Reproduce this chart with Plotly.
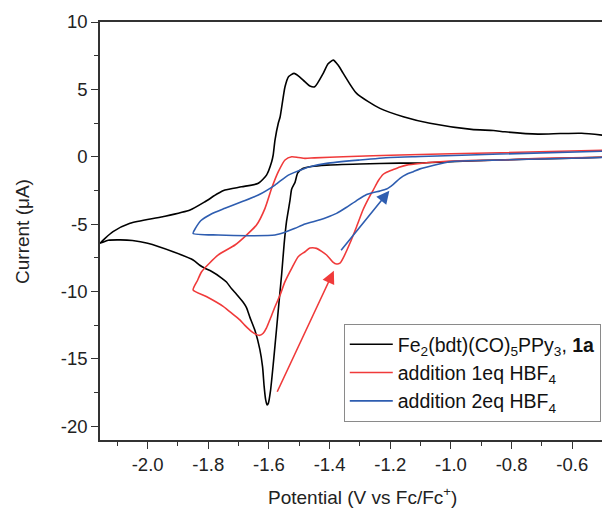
import plotly.graph_objects as go

# ---- data (potential in V vs Fc/Fc+, current in uA) ----
black_x = [-0.476, -0.60, -0.838, -1.003, -1.102, -1.168, -1.30, -1.41, -1.46, -1.487, -1.505,
           -1.514, -1.525, -1.531, -1.542, -1.550, -1.558, -1.566, -1.575, -1.585, -1.595,
           -1.602, -1.606, -1.611, -1.616, -1.621, -1.630, -1.646, -1.663, -1.674, -1.685,
           -1.707, -1.723, -1.740, -1.756, -1.790, -1.811, -1.828, -1.850, -1.916, -2.00,
           -2.05, -2.09, -2.13, -2.157,
           -2.114, -2.058, -1.95, -1.860, -1.811, -1.770, -1.745, -1.690, -1.635, -1.608,
           -1.591, -1.586, -1.580, -1.569, -1.563, -1.547, -1.535, -1.517, -1.500, -1.481,
           -1.465, -1.449, -1.421, -1.405, -1.388, -1.372, -1.355, -1.311, -1.234, -1.157,
           -1.069, -0.932, -0.86, -0.822, -0.713, -0.640, -0.569, -0.476]
black_y = [-0.02, -0.10, -0.24, -0.37, -0.47, -0.47, -0.54, -0.62, -0.72, -0.86, -1.20,
           -1.90, -2.40, -3.30, -4.80, -6.50, -8.70, -10.6, -12.8, -15.2, -17.4,
           -18.3, -18.42, -18.0, -17.0, -15.6, -14.3, -12.9, -11.9, -11.2, -10.8,
           -10.2, -9.8, -9.3, -9.0, -8.5, -8.28, -8.05, -7.66, -7.05, -6.42,
           -6.22, -6.17, -6.2, -6.42,
           -5.56, -4.94, -4.45, -3.95, -3.34, -2.75, -2.47, -2.23, -1.97, -1.36,
           -0.37, 0.13, 1.24, 2.50, 2.97, 5.19, 5.95, 6.19, 5.95, 5.56,
           5.25, 5.19, 6.19, 6.90, 7.17, 6.80, 6.19, 4.70, 3.59, 2.97,
           2.48, 2.03, 1.95, 1.85, 1.68, 1.72, 1.74, 1.54]

red_x = [-0.476, -0.70, -0.838, -1.003, -1.102, -1.146, -1.168, -1.190, -1.212, -1.223,
         -1.240, -1.256, -1.267, -1.289, -1.311, -1.333, -1.355, -1.366, -1.377, -1.390,
         -1.410, -1.443, -1.465, -1.481, -1.503, -1.525, -1.547, -1.564, -1.580, -1.597,
         -1.608, -1.619, -1.630, -1.641, -1.657, -1.680, -1.696, -1.718, -1.751, -1.805,
         -1.850,
         -1.836, -1.822, -1.767, -1.712, -1.674, -1.641, -1.613, -1.591, -1.569, -1.547,
         -1.525, -1.503, -1.481, -1.45, -1.355, -1.168, -0.838, -0.476]
red_y = [-0.02, -0.12, -0.24, -0.32, -0.50, -0.62, -0.76, -0.95, -1.15, -1.30,
         -1.80, -2.47, -2.90, -3.90, -5.19, -6.42, -7.50, -7.90, -7.96, -7.80,
         -7.29, -6.80, -6.78, -7.05, -7.40, -8.28, -9.27, -10.3, -11.13, -12.1,
         -12.7, -13.1, -13.25, -13.2, -12.98, -12.5, -12.11, -11.7, -11.1, -10.39,
         -9.89,
         -9.2, -8.53, -7.29, -6.55, -5.81, -5.07, -3.83, -2.34, -1.11, -0.24,
         0.0, -0.05, -0.12, -0.08, 0.0, 0.13, 0.30, 0.50]

blue_x = [-0.476, -0.838, -1.003, -1.102, -1.124, -1.146, -1.168, -1.190, -1.212, -1.235,
          -1.256, -1.278, -1.311, -1.344, -1.377, -1.410, -1.454, -1.481, -1.514, -1.547,
          -1.580, -1.657, -1.767, -1.850,
          -1.842, -1.825, -1.790, -1.745, -1.690, -1.635, -1.580, -1.536, -1.481, -1.465,
          -1.410, -1.300, -1.20, -1.10, -0.838, -0.476]
blue_y = [-0.04, -0.24, -0.37, -0.90, -1.11, -1.30, -1.60, -2.05, -2.40, -2.55,
          -2.65, -2.80, -3.25, -3.75, -4.20, -4.50, -4.82, -4.99, -5.31, -5.61,
          -5.81, -5.86, -5.81, -5.68,
          -5.30, -4.75, -4.25, -3.83, -3.34, -2.84, -2.10, -1.36, -0.86, -0.74,
          -0.49, -0.24, -0.05, 0.02, 0.20, 0.42]

series_names = ["Fe<sub>2</sub>(bdt)(CO)<sub>5</sub>PPy<sub>3</sub>, <b>1a</b>",
                "addition 1eq HBF<sub>4</sub>",
                "addition 2eq HBF<sub>4</sub>"]
series_colors = ["#000000", "#f03a3a", "#2e5db0"]

# arrows: (tail_x, tail_y, head_x, head_y)
red_arrow = [-1.575, -17.55, -1.386, -8.46]
blue_arrow = [-1.366, -7.05, -1.203, -2.52]

x_tick_vals = [-2.0, -1.8, -1.6, -1.4, -1.2, -1.0, -0.8, -0.6]
x_tick_text = ["-2.0", "-1.8", "-1.6", "-1.4", "-1.2", "-1.0", "-0.8", "-0.6"]
y_tick_vals = [-20, -15, -10, -5, 0, 5, 10]
y_tick_text = ["-20", "-15", "-10", "-5", "0", "5", "10"]

x_title = "Potential (V vs Fc/Fc<sup>+</sup>)"
y_title = "Current (\u03bcA)"

FONT = "Liberation Sans, Arial, sans-serif"
TXT = "#222222"

fig = go.Figure()
for xs, ys, name, col in zip([black_x, red_x, blue_x], [black_y, red_y, blue_y],
                             series_names, series_colors):
    fig.add_trace(go.Scatter(x=xs, y=ys, mode="lines", name=name,
                             line=dict(color=col, width=1.6, shape="spline", smoothing=0.6)))

for arr, col in [(red_arrow, series_colors[1]), (blue_arrow, series_colors[2])]:
    fig.add_annotation(x=arr[2], y=arr[3], ax=arr[0], ay=arr[1],
                       xref="x", yref="y", axref="x", ayref="y",
                       showarrow=True, arrowhead=2, arrowsize=1.6, arrowwidth=1.6,
                       arrowcolor=col, text="")

# axis titles as annotations for exact placement
fig.add_annotation(text=x_title, xref="paper", yref="paper", x=0.514, y=-0.134,
                   xanchor="center", yanchor="middle", showarrow=False,
                   font=dict(family=FONT, size=19, color=TXT))
fig.add_annotation(text=y_title, xref="paper", yref="paper", x=-0.153, y=0.5,
                   xanchor="center", yanchor="middle", showarrow=False, textangle=-90,
                   font=dict(family=FONT, size=19, color=TXT))

# the page body has an 8px margin, so the figure is sized/margined to compensate
fig.update_layout(
    width=602, height=501,
    margin=dict(l=92, r=0, t=14, b=69, autoexpand=False),
    paper_bgcolor="white", plot_bgcolor="white",
    font=dict(family=FONT, color=TXT),
    showlegend=True,
    legend=dict(x=0.478, y=0.2775, xanchor="left", yanchor="top",
                bgcolor="white", bordercolor="#8a8a8a", borderwidth=1,
                font=dict(family=FONT, size=19.5, color="#111111"),
                itemwidth=43, tracegroupgap=0),
    xaxis=dict(range=[-2.157, -0.4755], showgrid=False, zeroline=False, automargin=False,
               showline=True, linecolor="#333333", linewidth=1.5, mirror=True,
               ticks="outside", ticklen=7, tickwidth=1.3, tickcolor="#333333",
               tickvals=x_tick_vals, ticktext=x_tick_text,
               tickfont=dict(family=FONT, size=18.5, color=TXT),
               minor=dict(dtick=0.1, tick0=-2.0, ticks="outside", ticklen=4,
                          tickwidth=1.3, tickcolor="#333333", showgrid=False)),
    yaxis=dict(range=[-21.02, 10.0], showgrid=False, zeroline=False, automargin=False,
               showline=True, linecolor="#333333", linewidth=1.5, mirror=False,
               ticks="outside", ticklen=7, tickwidth=1.3, tickcolor="#333333",
               tickvals=y_tick_vals, ticktext=y_tick_text,
               tickfont=dict(family=FONT, size=18.5, color=TXT),
               minor=dict(dtick=2.5, tick0=0, ticks="outside", ticklen=4,
                          tickwidth=1.3, tickcolor="#333333", showgrid=False)),
)

fig.write_html("out.html")
